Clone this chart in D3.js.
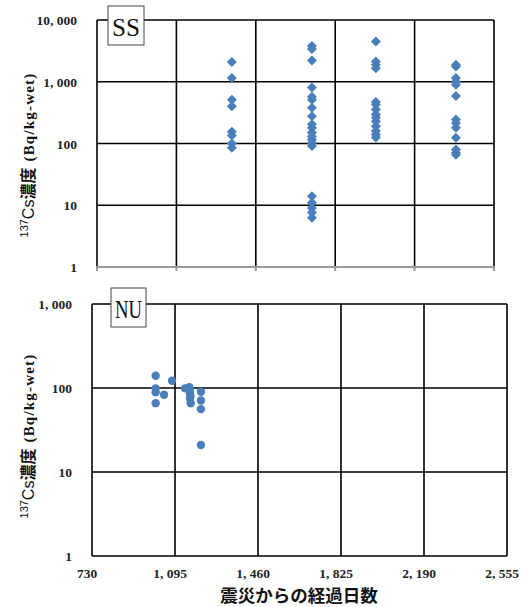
<!DOCTYPE html>
<html>
<head>
<meta charset="utf-8">
<script src="https://cdn.jsdelivr.net/npm/d3@7"></script>
<style>
    body { margin: 0; background: #fff; }
    .tick-label { font-family: "Liberation Serif", "DejaVu Serif", serif; font-weight: bold; font-size: 13.5px; fill: #222; }
    .grid { stroke: #000; stroke-width: 1.6; }
</style>
</head>
<body>
<div id="chart"></div>
<script>
    // 経過日数の目盛り
    const xTicks = [730, 1095, 1460, 1825, 2190, 2555];
    const ssTicks = [1, 10, 100, 1000, 10000];
    const nuTicks = [1, 10, 100, 1000];

    // SS（日数, 濃度）
    const ssDays = [
        1350, 1350, 1350, 1350, 1350, 1350, 1350, 1350,
        1718, 1718, 1718, 1718, 1718, 1718, 1718, 1718, 1718, 1718,
        1718, 1718, 1718, 1718, 1718, 1718, 1718, 1718, 1718, 1718,
        2012, 2012, 2012, 2012, 2012, 2012, 2012, 2012, 2012, 2012, 2012, 2012, 2012, 2012,
        2380, 2380, 2380, 2380, 2380, 2380, 2380, 2380, 2380, 2380, 2380, 2380, 2380
    ];
    const ssValues = [
        2080, 1150, 510, 400, 155, 135, 100, 85,
        3800, 3400, 2200, 810, 570, 510, 380, 275, 205, 180,
        150, 130, 115, 102, 91, 14, 11, 9, 7.6, 6.3,
        4500, 2130, 1880, 1660, 470, 430, 355, 295, 260, 230, 190, 160, 140, 125,
        1880, 1770, 1150, 1010, 890, 590, 245, 215, 180, 124, 80, 71, 66
    ];

    // NU（日数, 濃度）
    const nuDays = [1010, 1010, 1010, 1010, 1047, 1082, 1139, 1158, 1160, 1161, 1161, 1163, 1164, 1209, 1209, 1209, 1209];
    const nuValues = [140, 99, 89, 66, 83, 122, 99, 102, 95, 86, 75, 80, 66, 90, 71, 56, 21];

    const blue = '#4a7ebb';
    const W = 521, H = 607;

    const svg = d3.select('#chart').append('svg')
        .attr('width', W).attr('height', H);

    const fmt = d => d3.format(',')(d).replace(',', ', ');

    function drawPanel(opt) {
        const x = d3.scaleLinear().domain([730, 2555]).range([opt.left, opt.right]);
        const y = d3.scaleLog().domain(opt.yDomain).range([opt.bottom, opt.top]);
        const g = svg.append('g');

        // グリッド
        g.selectAll('.hgrid').data(opt.yTicks.filter(d => d !== opt.yDomain[0] || !opt.grayBottom))
            .enter().append('line').attr('class', 'grid')
            .attr('x1', opt.left).attr('x2', opt.right)
            .attr('y1', d => y(d)).attr('y2', d => y(d));
        g.selectAll('.vgrid').data(xTicks)
            .enter().append('line').attr('class', 'grid')
            .attr('x1', d => x(d)).attr('x2', d => x(d))
            .attr('y1', opt.top).attr('y2', opt.bottom);

        if (opt.grayBottom) {
            g.append('line')
                .attr('x1', opt.left - 1).attr('x2', opt.right + 1)
                .attr('y1', opt.bottom).attr('y2', opt.bottom)
                .attr('stroke', '#999').attr('stroke-width', 2);
            g.selectAll('.tk').data(xTicks).enter().append('line')
                .attr('x1', d => x(d)).attr('x2', d => x(d))
                .attr('y1', opt.bottom).attr('y2', opt.bottom + 4)
                .attr('stroke', '#999').attr('stroke-width', 2);
        }

        // y 目盛り
        g.selectAll('.ylab').data(opt.yTicks).enter().append('text')
            .attr('class', 'tick-label')
            .attr('x', opt.left - 20).attr('y', d => y(d) + 5)
            .attr('text-anchor', 'end')
            .text(fmt);

        // 軸タイトル
        const lab = g.append('text')
            .attr('transform', `translate(34,${opt.labelY}) rotate(-90)`)
            .attr('text-anchor', 'middle')
            .attr('font-size', 16).attr('fill', '#111');
        lab.append('tspan').attr('font-family', 'Liberation Sans, Arial, sans-serif')
            .attr('font-size', 11).attr('dy', -6).text('137');
        lab.append('tspan').attr('font-family', 'Liberation Sans, Arial, sans-serif')
            .attr('dy', 6).text('Cs');
        lab.append('tspan').attr('font-family', 'Noto Sans CJK JP, sans-serif')
            .attr('font-weight', 'bold').text('濃度');
        lab.append('tspan').attr('font-family', 'Liberation Serif, serif')
            .attr('font-weight', 'bold').attr('font-size', 15)
            .attr('letter-spacing', 1.2).attr('dx', 6).text('(Bq/kg-wet)');

        // ラベル枠
        g.append('rect')
            .attr('x', opt.box[0]).attr('y', opt.box[1])
            .attr('width', opt.box[2]).attr('height', opt.box[3])
            .attr('fill', '#fff').attr('stroke', '#444').attr('stroke-width', 1);
        g.append('text')
            .attr('x', opt.box[0] + opt.box[2] / 2).attr('y', opt.box[1] + opt.box[3] - 9)
            .attr('text-anchor', 'middle')
            .attr('font-family', 'Liberation Serif, serif')
            .attr('font-size', 26).attr('fill', '#111')
            .attr('textLength', opt.box[2] - 8).attr('lengthAdjust', 'spacingAndGlyphs')
            .text(opt.name);

        return { g, x, y };
    }

    // 上段 SS
    const ss = drawPanel({
        left: 97, right: 494, top: 20, bottom: 267,
        yDomain: [1, 10000], yTicks: ssTicks, grayBottom: true,
        labelY: 155, box: [108, 6, 36, 39], name: 'SS'
    });
    const diamond = d3.symbol().type(d3.symbolSquare).size(50);
    ss.g.selectAll('.ss').data(ssDays.map((d, i) => [d, ssValues[i]]))
        .enter().append('path')
        .attr('d', diamond)
        .attr('fill', blue)
        .attr('transform', d => `translate(${ss.x(d[0])},${ss.y(d[1])}) rotate(45)`);

    // 下段 NU
    const nu = drawPanel({
        left: 92, right: 507, top: 304, bottom: 556,
        yDomain: [1, 1000], yTicks: nuTicks, grayBottom: false,
        labelY: 436, box: [111, 288, 35, 39], name: 'NU'
    });
    nu.g.selectAll('.nu').data(nuDays.map((d, i) => [d, nuValues[i]]))
        .enter().append('circle')
        .attr('cx', d => nu.x(d[0])).attr('cy', d => nu.y(d[1]))
        .attr('r', 4.2).attr('fill', blue);

    // x 目盛り
    nu.g.selectAll('.xlab').data(xTicks).enter().append('text')
        .attr('class', 'tick-label')
        .attr('x', d => nu.x(d) - 5).attr('y', 578)
        .attr('text-anchor', 'middle')
        .text(fmt);

    svg.append('text')
        .attr('x', 299).attr('y', 602)
        .attr('text-anchor', 'middle')
        .attr('font-family', 'Noto Sans CJK JP, sans-serif')
        .attr('font-weight', 'bold').attr('font-size', 17.5).attr('fill', '#111')
        .text('震災からの経過日数');
</script>
</body>
</html>
